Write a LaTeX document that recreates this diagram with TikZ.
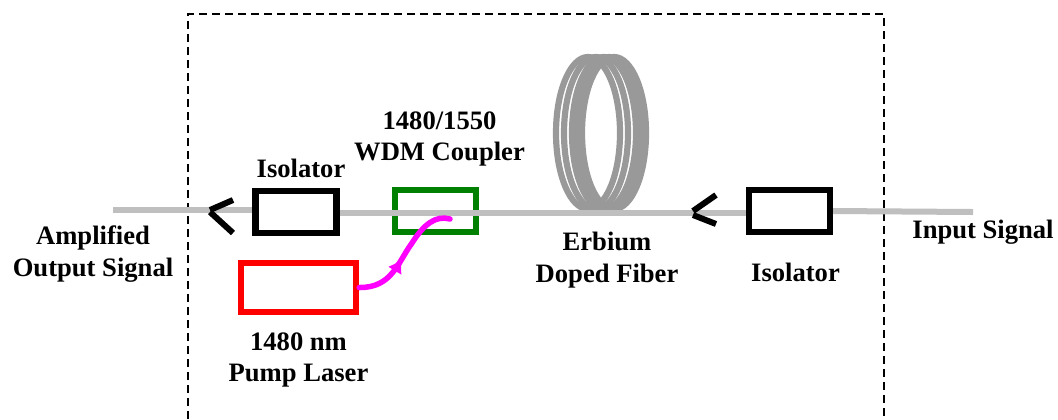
\documentclass[tikz,border=0pt]{standalone}
\usepackage{fontspec}
\setmainfont{Liberation Serif}
\usepackage{xcolor}
\usetikzlibrary{arrows.meta,positioning,decorations.markings}
\definecolor{fibergray}{HTML}{BFBFBF}
\definecolor{coilgray}{HTML}{999999}
\definecolor{coupgreen}{HTML}{008000}
\definecolor{pumpmagenta}{HTML}{FF00FF}

\begin{document}
\begin{tikzpicture}[
  x=0.5pt, y=-0.5pt,
  font=\fontsize{13.3}{15.8}\selectfont\bfseries,
  box/.style={rectangle, draw=black, fill=none, line width=3.2pt, inner sep=0pt,
    minimum width=40.5pt, minimum height=21pt},
  pumpbox/.style={box, draw=red, minimum width=57.5pt, minimum height=24.5pt},
  coupbox/.style={box, draw=coupgreen},
  lbl/.style={align=center, inner sep=0pt},
  fiber/.style={fibergray, line width=3pt},
  coil/.style={coilgray, line width=3.1pt},
  chevron/.style={black, line width=3pt},
  pump/.style={pumpmagenta, line width=2.75pt, line cap=round, postaction={decorate},
    decoration={markings, mark=at position 0.45 with {\arrow{Latex[length=7pt,width=8pt]}}}},
  frame/.style={black, line width=1pt, dash pattern=on 4pt off 2.5pt},
]
  \useasboundingbox (0,0) rectangle (1058,419);

  % dashed enclosure
  \coordinate (frameA) at (188,419);
  \coordinate (frameB) at (188,14);
  \coordinate (frameC) at (884,14);
  \coordinate (frameD) at (884,419);
  \draw[frame] (frameA) -- (frameB) -- (frameC) -- (frameD);

  % fiber coil
  \foreach \cx in {588,596,604,609,614}
    \draw[coil] (\cx,133) ellipse (32 and 76);

  \node[box] (isoleft) at (296,212) {};
  \node[coupbox] (coupler) at (435.5,211) {};
  \node[box] (isoright) at (789.5,211) {};
  \node[pumpbox] (pumplaser) at (298.5,287.5) {};

  \coordinate (fiberout) at (113,210);
  \coordinate (fiberin) at (973,212);
  \coordinate (midleft) at ([yshift=-0.5pt]isoleft.east);
  \coordinate (pumpend) at (450,219);

  \draw[fiber] (fiberout) -- (fiberout -| isoleft.west);
  \draw[fiber] (midleft) -- (midleft -| isoright.west);
  \draw[fiber] (isoright.east) -- (fiberin);

  \draw[pump] (pumplaser.east) .. controls (392,288) and (398,262) .. (412,243)
    .. controls (424,224) and (436,215) .. (pumpend);

  % direction marks
  \draw[chevron] (233,200) -- (210,210);
  \draw[chevron] (233,233) -- (210,212);
  \draw[chevron] (716,195) -- (693,211);
  \draw[chevron] (716,224) -- (693,215);

  % labels
  \node[lbl, above=5pt of isoleft, xshift=2.5pt] (isoleftlbl) {Isolator};
  \node[lbl, above=10pt of coupler, xshift=2pt] (couplerlbl) {1480/1550\\WDM Coupler};
  \node[lbl, below=8.5pt of pumplaser] (pumplbl) {1480 nm\\Pump Laser};
  \node[lbl, below=13.5pt of isoright, xshift=3pt] (isorightlbl) {Isolator};
  \node[lbl] (coillbl) at (607,260) {Erbium\\Doped Fiber};
  \node[lbl] (outlbl) at (93,254) {Amplified\\Output Signal};
  \node[lbl] (inlbl) at (983,232) {Input Signal};
\end{tikzpicture}
\end{document}
